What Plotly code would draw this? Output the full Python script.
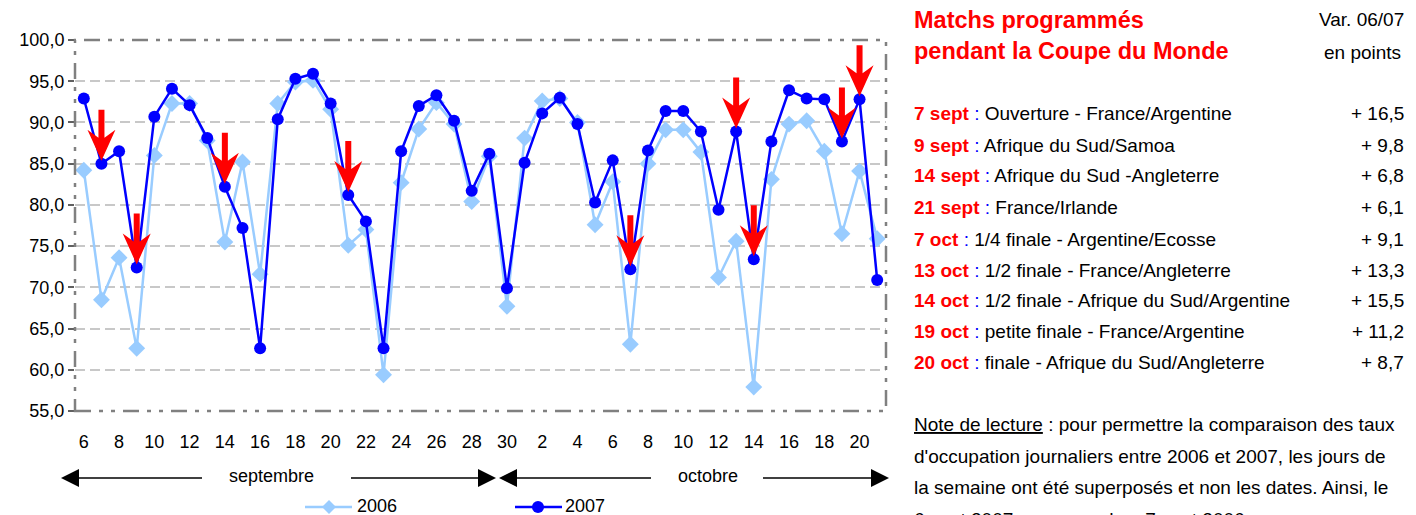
import plotly.graph_objects as go

# ---------------- data ----------------
days = ["6", "7", "8", "9", "10", "11", "12", "13", "14", "15", "16", "17", "18", "19",
        "20", "21", "22", "23", "24", "25", "26", "27", "28", "29", "30",
        "1", "2", "3", "4", "5", "6", "7", "8", "9", "10", "11", "12", "13", "14",
        "15", "16", "17", "18", "19", "20", "21"]
months = ["sept"] * 25 + ["oct"] * 21

occ_2006 = [84.2, 68.5, 73.6, 62.6, 86.0, 92.3, 92.3, 87.8, 75.5, 85.2, 71.6, 92.3,
            94.9, 95.1, 91.6, 75.1, 77.0, 59.4, 82.7, 89.2, 92.4, 89.8, 80.4, 85.9,
            67.7, 88.1, 92.6, 92.9, 90.0, 77.6, 82.8, 63.1, 85.0, 89.1, 89.1, 86.4,
            71.2, 75.6, 57.9, 83.1, 89.8, 90.2, 86.5, 76.5, 84.1, 75.9]
occ_2007 = [92.9, 85.0, 86.5, 72.4, 90.7, 94.1, 92.1, 88.1, 82.2, 77.2, 62.6, 90.4,
            95.3, 95.9, 92.3, 81.2, 78.0, 62.6, 86.5, 92.0, 93.3, 90.2, 81.7, 86.2,
            69.9, 85.1, 91.1, 93.0, 89.8, 80.3, 85.4, 72.2, 86.6, 91.4, 91.4, 88.9,
            79.4, 88.9, 73.4, 87.7, 93.9, 92.9, 92.8, 87.7, 92.8, 70.9]

y_tickvals = [55, 60, 65, 70, 75, 80, 85, 90, 95, 100]
y_ticktext = ["55,0", "60,0", "65,0", "70,0", "75,0", "80,0", "85,0", "90,0", "95,0", "100,0"]

series_names = ["2006", "2007"]
month_names = ["septembre", "octobre"]

match_dates = ["7 sept", "9 sept", "14 sept", "21 sept", "7 oct",
               "13 oct", "14 oct", "19 oct", "20 oct"]
match_labels = ["Ouverture - France/Argentine", "Afrique du Sud/Samoa",
                "Afrique du Sud -Angleterre", "France/Irlande",
                "1/4 finale - Argentine/Ecosse", "1/2 finale - France/Angleterre",
                "1/2 finale - Afrique du Sud/Argentine",
                "petite finale - France/Argentine",
                "finale - Afrique du Sud/Angleterre"]
match_var = ["+ 16,5", "+ 9,8", "+ 6,8", "+ 6,1", "+ 9,1", "+ 13,3", "+ 15,5",
             "+ 11,2", "+ 8,7"]

note_lines = ["<u>Note de lecture</u> : pour permettre la comparaison des taux",
              "d'occupation journaliers entre 2006 et 2007, les jours de",
              "la semaine ont été superposés et non les dates. Ainsi, le",
              "6 sept 2007 correspond au 7 sept 2006."]

# ---------------- layout geometry ----------------
# The page body has an 8px margin, so the figure is drawn 8px right / 8px down.
OFF = 8
W, H = 1416 - OFF, 515 - OFF
# plot area in screen pixels
L, R, T, B = 75, 886, 40, 411
YMIN, YMAX = 55, 100
n = len(days)
x_idx = list(range(n))
ypx = (B - T) / (YMAX - YMIN)          # px per value unit
xpx = (R - L) / n                      # px per category


def px2x(px):
    return (px - L) / (R - L)


def py2y(py):
    return (B - py) / (B - T)


FONT = "Liberation Sans, Arial, sans-serif"
C06, C07 = "#99CCFF", "#0000FF"

fig = go.Figure()
fig.add_trace(go.Scatter(
    x=x_idx, y=occ_2006, name=series_names[0], mode="lines+markers",
    line=dict(color=C06, width=2.5),
    marker=dict(symbol="diamond", size=13, color=C06),
))
fig.add_trace(go.Scatter(
    x=x_idx, y=occ_2007, name=series_names[1], mode="lines+markers",
    line=dict(color=C07, width=2.5),
    marker=dict(symbol="circle", size=12, color=C07),
))

shapes = []
# plot frame
shapes.append(dict(type="rect", xref="paper", yref="paper", x0=0, x1=1, y0=0, y1=1,
                   line=dict(color="#808080", width=2.5,
                             dash="16px,8px,4px,8px,4px,8px"),
                   layer="above"))

# red arrows on match days
keys = [f"{d} {m}" for d, m in zip(days, months)]
for md in match_dates:
    i = keys.index(md)
    tip = occ_2007[i] + 3 / ypx

    def P(dxpx, dypx):
        return f"{i + dxpx / xpx},{tip + dypx / ypx}"
    path = ("M " + P(-3, 51) + " L " + P(-3, 23) + " L " + P(-14, 31) + " L " + P(0, 0)
            + " L " + P(14, 31) + " L " + P(3, 23) + " L " + P(3, 51) + " Z")
    shapes.append(dict(type="path", xref="x", yref="y", path=path,
                       fillcolor="#FF0000", line=dict(width=0), layer="above"))

# month arrows below the axis
AY = 478


def hline(x0, x1, y, color="black", width=1.5):
    shapes.append(dict(type="line", xref="paper", yref="paper",
                       x0=px2x(x0), x1=px2x(x1), y0=py2y(y), y1=py2y(y),
                       line=dict(color=color, width=width)))


def tri(tipx, direction):
    bx = tipx + 18 * direction
    path = (f"M {px2x(tipx)},{py2y(AY)} L {px2x(bx)},{py2y(AY - 9)} "
            f"L {px2x(bx)},{py2y(AY + 9)} Z")
    shapes.append(dict(type="path", xref="paper", yref="paper", path=path,
                       fillcolor="black", line=dict(width=0)))


hline(76, 202, AY); tri(61, 1)
hline(351, 480, AY); tri(496, -1)
hline(515, 651, AY); tri(499, 1)
hline(763, 873, AY); tri(889, -1)

# custom legend (kept inside the figure)
LY = 507
hline(305, 352, LY, C06, 2.5)
dpath = (f"M {px2x(329 - 7)},{py2y(LY)} L {px2x(329)},{py2y(LY - 7)} "
         f"L {px2x(329 + 7)},{py2y(LY)} L {px2x(329)},{py2y(LY + 7)} Z")
shapes.append(dict(type="path", xref="paper", yref="paper", path=dpath,
                   fillcolor=C06, line=dict(width=0)))
hline(515, 562, LY, C07, 2.5)
shapes.append(dict(type="circle", xref="paper", yref="paper",
                   x0=px2x(538 - 6), x1=px2x(538 + 6),
                   y0=py2y(LY + 6), y1=py2y(LY - 6),
                   fillcolor=C07, line=dict(width=0)))

annotations = []
for lx, name in zip([355, 563], series_names):
    annotations.append(dict(xref="paper", yref="paper", x=px2x(lx), y=py2y(LY - 1),
                            xanchor="left", yanchor="middle", text=name,
                            showarrow=False,
                            font=dict(size=18, family=FONT, color="black")))

for mx, mname in zip([271, 708], month_names):
    annotations.append(dict(xref="paper", yref="paper", x=px2x(mx), y=py2y(476),
                            xanchor="center", yanchor="middle", text=mname,
                            showarrow=False,
                            font=dict(size=18, family=FONT, color="black")))

# cropped chart title at the very top
annotations.append(dict(xref="paper", yref="paper", x=px2x(45), y=py2y(-8),
                        xanchor="left", yanchor="middle",
                        text="Taux d'occupation journaliers des hôtels en 2006 et 2007 (%)",
                        showarrow=False,
                        font=dict(size=18, family=FONT, color="#0000FF")))

# right panel
PX = 912
RX = 1406
annotations.append(dict(xref="paper", yref="paper", x=px2x(PX), y=py2y(20),
                        xanchor="left", yanchor="middle",
                        text="<b>Matchs programmés</b>", showarrow=False,
                        font=dict(size=23.5, family=FONT, color="#FF0000")))
annotations.append(dict(xref="paper", yref="paper", x=px2x(PX), y=py2y(51),
                        xanchor="left", yanchor="middle",
                        text="<b>pendant la Coupe du Monde</b>", showarrow=False,
                        font=dict(size=23.5, family=FONT, color="#FF0000")))
annotations.append(dict(xref="paper", yref="paper", x=px2x(RX), y=py2y(20),
                        xanchor="right", yanchor="middle",
                        text="Var. 06/07", showarrow=False,
                        font=dict(size=19, family=FONT, color="black")))
annotations.append(dict(xref="paper", yref="paper", x=px2x(RX - 3), y=py2y(52),
                        xanchor="right", yanchor="middle",
                        text="en points", showarrow=False,
                        font=dict(size=19, family=FONT, color="black")))

row_y = [113, 145, 176, 207, 239, 270, 300, 331, 362]
for yy, d, lab, v in zip(row_y, match_dates, match_labels, match_var):
    annotations.append(dict(
        xref="paper", yref="paper", x=px2x(PX), y=py2y(yy),
        xanchor="left", yanchor="middle", showarrow=False,
        text=(f"<b><span style='color:#FF0000'>{d}</span></b>"
              f"<span style='color:#0000FF'> : </span>{lab}"),
        font=dict(size=19, family=FONT, color="black")))
    annotations.append(dict(
        xref="paper", yref="paper", x=px2x(RX), y=py2y(yy),
        xanchor="right", yanchor="middle", showarrow=False, text=v,
        font=dict(size=19, family=FONT, color="black")))

note_y = [424, 456, 487, 519]
for yy, t in zip(note_y, note_lines):
    annotations.append(dict(
        xref="paper", yref="paper", x=px2x(PX), y=py2y(yy),
        xanchor="left", yanchor="middle", showarrow=False, text=t,
        font=dict(size=19, family=FONT, color="black")))

fig.update_layout(
    width=W, height=H,
    margin=dict(l=L - OFF, r=W - (R - OFF), t=T - OFF, b=H - (B - OFF), pad=0,
                autoexpand=False),
    paper_bgcolor="white", plot_bgcolor="white",
    font=dict(family=FONT, size=18, color="black"),
    showlegend=False,
    xaxis=dict(range=[-0.5, n - 0.5], tickmode="array",
               tickvals=x_idx[::2], ticktext=days[::2],
               showgrid=False, zeroline=False, showline=False, ticks="",
               ticklabelstandoff=18, automargin=False,
               tickfont=dict(size=18, family=FONT, color="black")),
    yaxis=dict(range=[YMIN, YMAX], tickmode="array",
               tickvals=y_tickvals, ticktext=y_ticktext,
               showgrid=True, gridcolor="#C8C8C8", griddash="10px,5px", gridwidth=1.5,
               zeroline=False, showline=False, ticks="outside", ticklen=6,
               tickcolor="#606060", tickwidth=1.5, automargin=False,
               tickfont=dict(size=18, family=FONT, color="black")),
    shapes=shapes, annotations=annotations,
)

fig.write_html("out.html")
